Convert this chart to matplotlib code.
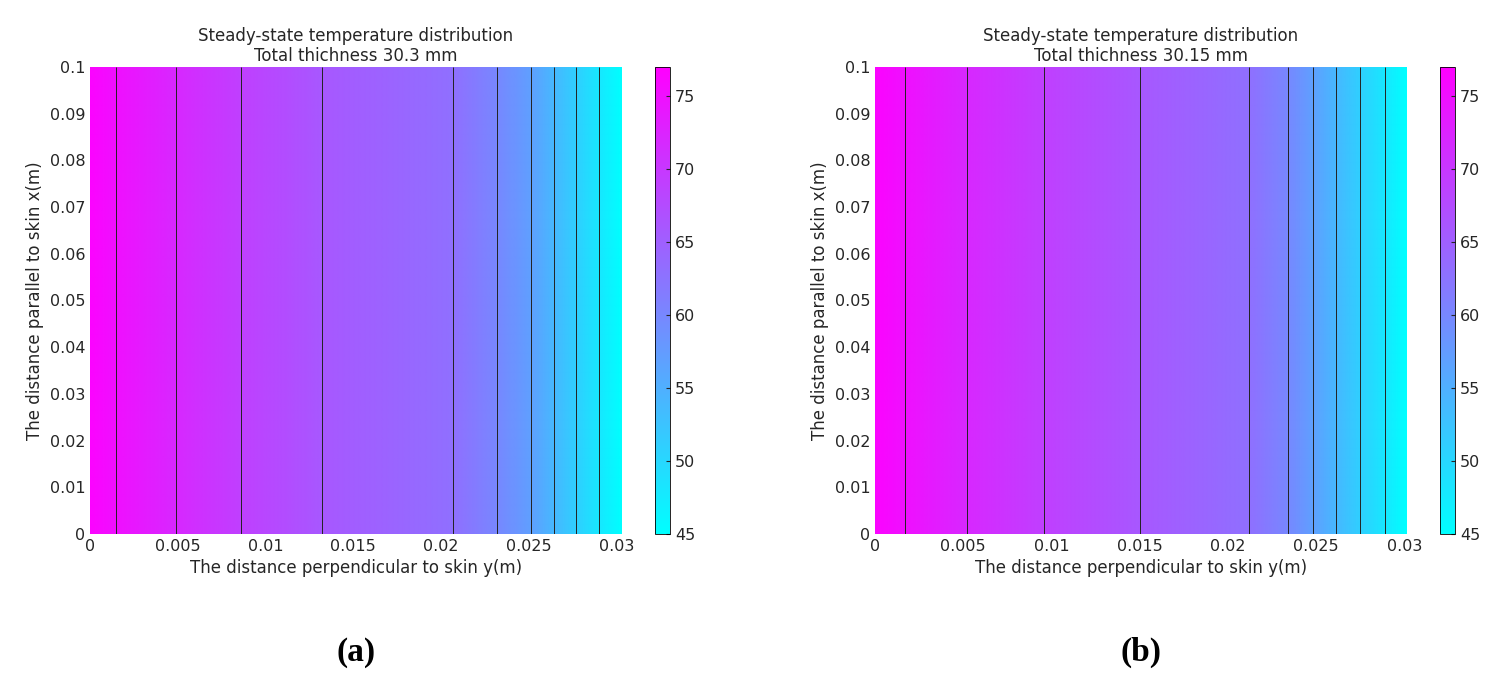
import numpy as np
import matplotlib.pyplot as plt

# temperature profile read at contour crossings (y in m, T in degC)
y_a = [0.0, 0.0015, 0.0049, 0.0086, 0.0132, 0.0207, 0.0232, 0.0251, 0.0264, 0.0277, 0.0290, 0.0303]
t_a = [76.5, 75, 72, 69, 66, 63, 60, 57, 54, 51, 48, 45]
y_b = [0.0, 0.0017, 0.0052, 0.0096, 0.0150, 0.0212, 0.0234, 0.0248, 0.0261, 0.0275, 0.0289, 0.03015]
t_b = [76.5, 75, 72, 69, 66, 63, 60, 57, 54, 51, 48, 45]
levels = [48, 51, 54, 57, 60, 63, 66, 69, 72, 75]
titles = ["Steady-state temperature distribution\nTotal thichness 30.3 mm",
          "Steady-state temperature distribution\nTotal thichness 30.15 mm"]
tags = ["(a)", "(b)"]
xticks = [0, 0.005, 0.01, 0.015, 0.02, 0.025, 0.03]
xticklabels = ["0", "0.005", "0.01", "0.015", "0.02", "0.025", "0.03"]
yticks = np.round(np.arange(0, 0.101, 0.01), 2)
yticklabels = ["0"] + [f"{v:g}" for v in yticks[1:]]

W, H = 1512, 686
fig = plt.figure(figsize=(W / 100, H / 100), dpi=100)
cmap = plt.get_cmap("cool")
tc = "#262626"

panels = [(y_a, t_a, 90, 655), (y_b, t_b, 875, 1440)]
for i, (ys, ts, ax_left, cb_left) in enumerate(panels):
    ax = fig.add_axes([ax_left / W, 1 - 534 / H, 532 / W, 467 / H])
    cax = fig.add_axes([cb_left / W, 1 - 534 / H, 15 / W, 467 / H])
    yy = np.linspace(0, ys[-1], 400)
    xx = np.linspace(0, 0.1, 50)
    prof = np.interp(yy, ys, ts)
    T = np.tile(prof, (len(xx), 1))
    im = ax.pcolormesh(yy, xx, T, cmap=cmap, vmin=45, vmax=77, shading="gouraud")
    ax.contour(yy, xx, T, levels=levels, colors="#222222", linewidths=0.7)
    ax.set_xlim(0, ys[-1])
    ax.set_ylim(0, 0.1)
    ax.set_xticks(xticks)
    ax.set_xticklabels(xticklabels)
    ax.set_yticks(yticks)
    ax.set_yticklabels(yticklabels)
    ax.tick_params(labelsize=11.5, colors=tc, direction="in", length=0)
    for s in ax.spines.values():
        s.set_visible(False)
    ax.set_title(titles[i], fontsize=12, color=tc, pad=4)
    ax.set_xlabel("The distance perpendicular to skin y(m)", fontsize=12, color=tc)
    ax.set_ylabel("The distance parallel to skin x(m)", fontsize=12, color=tc)
    cb = fig.colorbar(im, cax=cax)
    cb.set_ticks([45, 50, 55, 60, 65, 70, 75])
    cb.ax.tick_params(labelsize=11.5, colors=tc, direction="in", length=3)
    cb.outline.set_linewidth(0.6)
    fig.text((ax_left + 266) / W, 1 - 652 / H, tags[i], ha="center", va="center",
             fontsize=24, family="Liberation Serif", fontweight="bold")

fig.savefig("out.png", dpi=100)
